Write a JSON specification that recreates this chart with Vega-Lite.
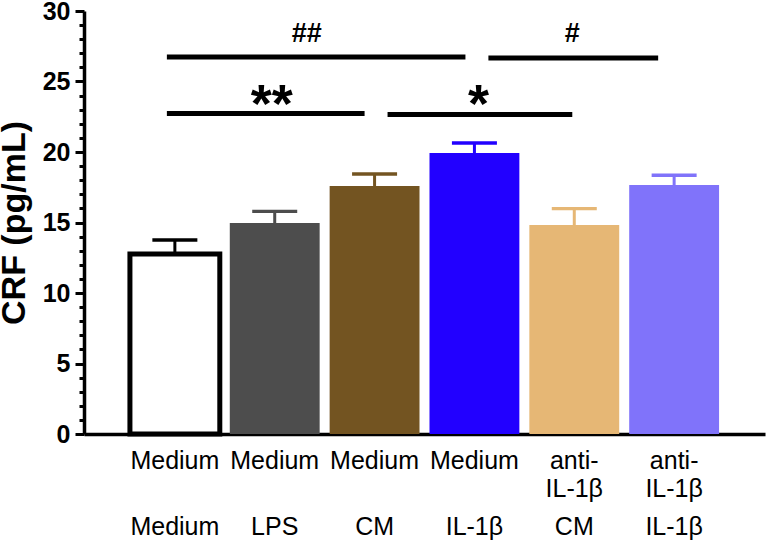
{
  "$schema": "https://vega.github.io/schema/vega-lite/v6.json",
  "width": 681,
  "height": 423,
  "autosize": {"type": "none"},
  "padding": {"left": 84, "top": 11, "right": 2, "bottom": 109},
  "background": "white",
  "config": {
    "view": {"stroke": null},
    "font": "Liberation Sans",
    "axis": {"labelOverlap": false},
    "axisY": {
      "titleFont": "Liberation Sans", "titleFontSize": 34, "titleFontWeight": "bold", "titleColor": "black", "titlePadding": 11,
      "tickWidth": 3, "tickColor": "black", "domainColor": "black", "domainWidth": 3.5,
      "labelFont": "Liberation Sans", "labelFontSize": 25, "labelFontWeight": "bold",
      "labelColor": "black", "labelPadding": 5, "grid": false, "labelBound": false
    }
  },
  "datasets": {
    "bars": [
      {"group": "Medium/Medium", "mean": 12.77, "upper": 13.76},
      {"group": "Medium/LPS", "mean": 14.96, "upper": 15.79},
      {"group": "Medium/CM", "mean": 17.59, "upper": 18.44},
      {"group": "Medium/IL-1β", "mean": 19.93, "upper": 20.64},
      {"group": "anti-IL-1β/CM", "mean": 14.82, "upper": 15.98},
      {"group": "anti-IL-1β/IL-1β", "mean": 17.66, "upper": 18.35}
    ],
    "lines": [
      {"x1": -0.08, "x2": 2.91, "y": 26.74},
      {"x1": 3.14, "x2": 4.84, "y": 26.67},
      {"x1": -0.08, "x2": 1.9, "y": 22.73},
      {"x1": 2.13, "x2": 3.98, "y": 22.66}
    ],
    "marks": [
      {"label": "##", "xc": 1.32, "y": 27.8, "size": 27},
      {"label": "#", "xc": 3.98, "y": 27.8, "size": 27},
      {"label": "**", "xc": 0.97, "y": 22.15, "size": 54},
      {"label": "*", "xc": 3.04, "y": 22.15, "size": 54}
    ]
  },
  "layer": [
    {
      "data": {"name": "bars"},
      "mark": {"type": "bar", "strokeWidth": 5},
      "encoding": {
        "x": {
          "field": "group", "type": "nominal", "sort": null,
          "scale": {"paddingInner": 0.1, "paddingOuter": 0.46},
          "axis": {
            "title": null, "ticks": false, "labelAngle": 0,
            "domainColor": "black", "domainWidth": 3.5,
            "labelFont": "Liberation Sans", "labelFontSize": 25, "labelColor": "black",
            "labelLineHeight": 28, "labelPadding": 14,
            "labelExpr": "indexof(datum.value, 'anti-') === 0 ? ['anti-', 'IL-1β'] : split(datum.value, '/')[0]"
          }
        },
        "y": {
          "field": "mean", "type": "quantitative",
          "scale": {"domain": [0, 30], "nice": false},
          "axis": {
            "title": "CRF (pg/mL)",
            "values": [0,1,2,3,4,5,6,7,8,9,10,11,12,13,14,15,16,17,18,19,20,21,22,23,24,25,26,27,28,29,30],
            "labelExpr": "datum.value % 5 == 0 ? datum.label : ''",
            "tickSize": {"condition": {"test": "datum.value % 5 == 0", "value": 9}, "value": 5}
          }
        },
        "fill": {
          "field": "group", "type": "nominal", "legend": null,
          "scale": {
            "domain": ["Medium/Medium", "Medium/LPS", "Medium/CM", "Medium/IL-1β", "anti-IL-1β/CM", "anti-IL-1β/IL-1β"],
            "range": ["#ffffff", "#4d4d4d", "#735421", "#2200ff", "#e6b775", "#8073fa"]
          }
        },
        "stroke": {"condition": {"test": "datum.group === 'Medium/Medium'", "value": "#000000"}, "value": "transparent"}
      }
    },
    {
      "data": {"name": "bars"},
      "mark": {"type": "rule", "strokeWidth": 3},
      "encoding": {
        "x": {"field": "group", "type": "nominal", "sort": null, "scale": {"paddingInner": 0.1, "paddingOuter": 0.46}, "axis": null},
        "y": {
          "field": "mean", "type": "quantitative",
          "axis": {
            "title": "CRF (pg/mL)",
            "values": [0,1,2,3,4,5,6,7,8,9,10,11,12,13,14,15,16,17,18,19,20,21,22,23,24,25,26,27,28,29,30],
            "labelExpr": "datum.value % 5 == 0 ? datum.label : ''",
            "tickSize": {"condition": {"test": "datum.value % 5 == 0", "value": 9}, "value": 5}
          }
        },
        "y2": {"field": "upper"},
        "color": {
          "field": "group", "type": "nominal", "legend": null,
          "scale": {
            "domain": ["Medium/Medium", "Medium/LPS", "Medium/CM", "Medium/IL-1β", "anti-IL-1β/CM", "anti-IL-1β/IL-1β"],
            "range": ["#000000", "#4d4d4d", "#735421", "#2200ff", "#e6b775", "#8073fa"]
          }
        }
      }
    },
    {
      "data": {"name": "bars"},
      "mark": {"type": "tick", "size": 45, "thickness": 3.3, "opacity": 1},
      "encoding": {
        "x": {
          "field": "group", "type": "nominal", "sort": null,
          "scale": {"paddingInner": 0.1, "paddingOuter": 0.46},
          "axis": {
            "title": null, "ticks": false, "domain": false, "labelAngle": 0, "orient": "bottom",
            "labelFont": "Liberation Sans", "labelFontSize": 25, "labelColor": "black",
            "labelPadding": 80,
            "labelExpr": "split(datum.value, '/')[1]"
          }
        },
        "y": {
          "field": "upper", "type": "quantitative",
          "axis": {
            "title": "CRF (pg/mL)",
            "values": [0,1,2,3,4,5,6,7,8,9,10,11,12,13,14,15,16,17,18,19,20,21,22,23,24,25,26,27,28,29,30],
            "labelExpr": "datum.value % 5 == 0 ? datum.label : ''",
            "tickSize": {"condition": {"test": "datum.value % 5 == 0", "value": 9}, "value": 5}
          }
        },
        "color": {"field": "group", "type": "nominal", "legend": null}
      }
    },
    {
      "data": {"name": "lines"},
      "mark": {"type": "rule", "strokeWidth": 5, "color": "black"},
      "encoding": {
        "x": {"field": "x1", "type": "quantitative", "scale": {"domain": [-0.91, 5.91], "nice": false, "zero": false}, "axis": null},
        "x2": {"field": "x2"},
        "y": {
          "field": "y", "type": "quantitative",
          "axis": {
            "title": "CRF (pg/mL)",
            "values": [0,1,2,3,4,5,6,7,8,9,10,11,12,13,14,15,16,17,18,19,20,21,22,23,24,25,26,27,28,29,30],
            "labelExpr": "datum.value % 5 == 0 ? datum.label : ''",
            "tickSize": {"condition": {"test": "datum.value % 5 == 0", "value": 9}, "value": 5}
          }
        }
      }
    },
    {
      "data": {"name": "marks"},
      "mark": {"type": "text", "font": "Liberation Sans", "fontWeight": "bold", "color": "black", "baseline": "alphabetic", "align": "center"},
      "encoding": {
        "x": {"field": "xc", "type": "quantitative", "scale": {"domain": [-0.91, 5.91], "nice": false, "zero": false}, "axis": null},
        "y": {
          "field": "y", "type": "quantitative",
          "axis": {
            "title": "CRF (pg/mL)",
            "values": [0,1,2,3,4,5,6,7,8,9,10,11,12,13,14,15,16,17,18,19,20,21,22,23,24,25,26,27,28,29,30],
            "labelExpr": "datum.value % 5 == 0 ? datum.label : ''",
            "tickSize": {"condition": {"test": "datum.value % 5 == 0", "value": 9}, "value": 5}
          }
        },
        "text": {"field": "label"},
        "size": {"field": "size", "type": "quantitative", "scale": null, "legend": null}
      }
    }
  ],
  "resolve": {"scale": {"x": "independent"}, "axis": {"x": "independent"}}
}
